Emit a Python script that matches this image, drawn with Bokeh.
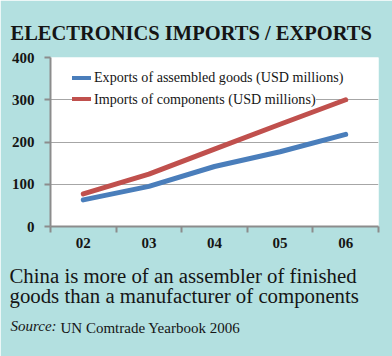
from bokeh.plotting import figure
from bokeh.models import Range1d, FixedTicker, Label, Legend, LegendItem, ColumnDataSource
from bokeh.embed import file_html
from bokeh.resources import INLINE

years = ["02", "03", "04", "05", "06"]
exports = [63, 95, 142, 177, 218]
imports = [77, 124, 183, 242, 300]
y_ticks = [0, 100, 200, 300, 400]

title_text = "ELECTRONICS IMPORTS / EXPORTS"
caption_lines = ["China is more of an assembler of finished",
                 "goods than a manufacturer of components"]
source_label = "Source:"
source_text = "UN Comtrade Yearbook 2006"
series_names = ["Exports of assembled goods (USD millions)",
                "Imports of components (USD millions)"]

BG = "#b3e0e0"
AXIS = "#8c8c8c"
INK = "#151515"
SERIF = "Liberation Serif"

xpos = [i + 0.5 for i in range(len(years))]
src = ColumnDataSource(dict(x=xpos, exp=exports, imp=imports))

p = figure(width=392, height=356, output_backend="svg", toolbar_location=None,
           x_range=Range1d(0, len(years)), y_range=Range1d(0, 400),
           min_border_left=50, min_border_right=14, min_border_top=57, min_border_bottom=130)
p.background_fill_color = "white"
p.border_fill_color = BG
p.outline_line_color = None

p.title.text = title_text
p.title.text_font = SERIF
p.title.text_font_size = "20.5px"
p.title.text_font_style = "bold"
p.title.text_color = INK
p.title.offset = -40
p.title.standoff = 28

r_exp = p.line("x", "exp", source=src, line_color="#4a7ebb", line_width=5, line_cap="round")
r_imp = p.line("x", "imp", source=src, line_color="#c0504d", line_width=5, line_cap="round")

# one compact legend box per series, so the white boxes stay clear of the lines
legend_locs = [(22, 140), (22, 118.5)]
for name, rend, loc in zip(series_names, [r_exp, r_imp], legend_locs):
    lg = Legend(items=[LegendItem(label=name, renderers=[rend])],
                location=loc, margin=0, padding=0, spacing=0,
                label_height=16, glyph_height=4, glyph_width=19, label_standoff=3,
                label_text_font=SERIF, label_text_font_size="14.1px", label_text_color=INK,
                background_fill_color="white", border_line_color=None)
    p.add_layout(lg, "center")

# y axis
p.yaxis.ticker = FixedTicker(ticks=y_ticks)
p.yaxis.axis_line_color = AXIS
p.yaxis.axis_line_width = 2
p.yaxis.major_tick_line_color = AXIS
p.yaxis.major_tick_line_width = 2
p.yaxis.major_tick_out = 6
p.yaxis.major_tick_in = 0
p.yaxis.minor_tick_line_color = None
p.yaxis.major_label_text_font = SERIF
p.yaxis.major_label_text_font_style = "bold"
p.yaxis.major_label_text_font_size = "15px"
p.yaxis.major_label_text_color = INK
p.yaxis.major_label_standoff = 10

# x axis: ticks between categories, labels centred
p.xaxis.ticker = FixedTicker(ticks=xpos, minor_ticks=list(range(len(years) + 1)))
p.xaxis.major_label_overrides = {x: y for x, y in zip(xpos, years)}
p.xaxis.axis_line_color = AXIS
p.xaxis.axis_line_width = 2
p.xaxis.major_tick_line_color = None
p.xaxis.major_tick_out = 0
p.xaxis.minor_tick_line_color = AXIS
p.xaxis.minor_tick_line_width = 2
p.xaxis.minor_tick_out = 6
p.xaxis.minor_tick_in = 0
p.xaxis.major_label_text_font = SERIF
p.xaxis.major_label_text_font_style = "bold"
p.xaxis.major_label_text_font_size = "15px"
p.xaxis.major_label_text_color = INK
p.xaxis.major_label_standoff = 5

p.xgrid.grid_line_color = None
p.ygrid.ticker = FixedTicker(ticks=y_ticks)
p.ygrid.grid_line_color = "#a6a6a6"
p.ygrid.grid_line_width = 1

# caption and source, placed in the below panels (not clipped to the frame)
caption_dy = [-2, 1]
for line, dy in zip(caption_lines, caption_dy):
    p.add_layout(Label(x=-41, y=dy, x_units="screen", y_units="screen",
                       text=line, text_baseline="alphabetic",
                       text_font=SERIF, text_font_size="20.8px", text_color=INK), "below")
p.add_layout(Label(x=-40, y=-13, x_units="screen", y_units="screen", text=source_label,
                   text_baseline="alphabetic", text_font=SERIF, text_font_style="italic",
                   text_font_size="15px", text_color=INK), "below")
p.add_layout(Label(x=10, y=1, x_units="screen", y_units="screen", text=source_text,
                   text_baseline="alphabetic", text_font=SERIF,
                   text_font_size="15px", text_color=INK), "below")

open("out.html", "w").write(file_html(p, INLINE))
